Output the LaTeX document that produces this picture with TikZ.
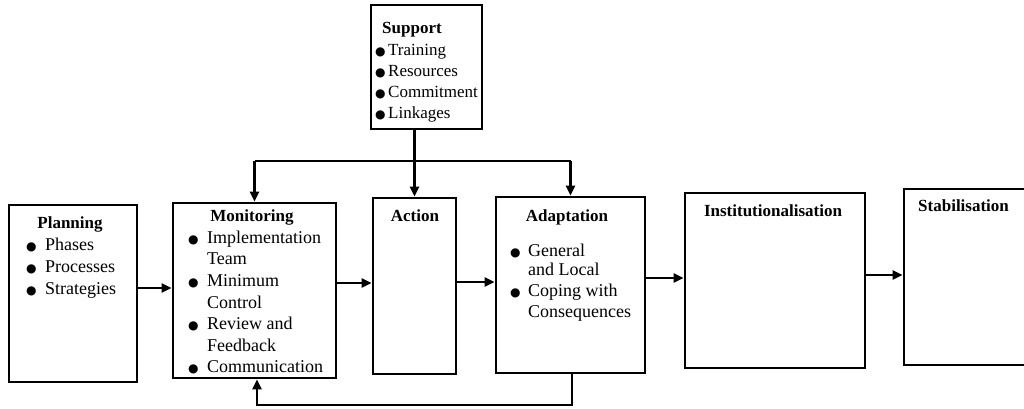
\documentclass[tikz,border=0pt]{standalone}
\usepackage{fontspec}
\setmainfont{Liberation Serif}
\newfontfamily\symf{DejaVu Sans}
\usetikzlibrary{arrows.meta}
\newcommand\myTitleFont{\bfseries\fontsize{17}{20}\selectfont}
\newcommand\myItemFont{\fontsize{18}{21}\selectfont}
\newcommand\myBul[1]{\makebox[#1][l]{\symf\fontsize{12}{12}\selectfont ●}}
\tikzset{
  box/.style={draw, line width=2.8pt, inner sep=0pt},
  line/.style={line width=2.4pt},
  conn/.style={line width=2.4pt, -{Triangle[length=10pt,width=9pt]}},
  ttl/.style={font=\myTitleFont, anchor=base, inner sep=0pt},
  itm/.style={font=\myItemFont, anchor=base west, inner sep=0pt},
}
\begin{document}
\begin{tikzpicture}[x=1pt,y=-1pt]
\useasboundingbox (0,0) rectangle (1024,409);
\fill[white] (0,0) rectangle (1024,409);
% boxes
\node[box, minimum width=111pt, minimum height=124pt] (sup) at (426.5,67) {};
\node[box, minimum width=128pt, minimum height=177pt] (plan) at (73,293.5) {};
\node[box, minimum width=163pt, minimum height=175pt] (mon) at (254.5,290.5) {};
\node[box, minimum width=83pt, minimum height=176pt] (act) at (414.5,286) {};
\node[box, minimum width=149pt, minimum height=176pt] (ada) at (570.5,285) {};
\node[box, minimum width=180pt, minimum height=175pt] (inst) at (775,280.5) {};
\node[box, minimum width=140pt, minimum height=176pt] (stab) at (974,277) {};
% Support texts
\node[ttl] (supT) at (412,34) {Support};
\node[itm, font=\fontsize{17}{20}\selectfont] (sup1) at (375,56) {\myBul{13pt}Training};
\node[itm, font=\fontsize{17}{20}\selectfont] (sup2) at (375,77) {\myBul{13pt}Resources};
\node[itm, font=\fontsize{17}{20}\selectfont] (sup3) at (375,98) {\myBul{13pt}Commitment};
\node[itm, font=\fontsize{17}{20}\selectfont] (sup4) at (375,118) {\myBul{13pt}Linkages};
% Planning texts
\node[ttl] (planT) at (70,228) {Planning};
\node[itm] (plan1) at (26,250) {\myBul{19pt}Phases};
\node[itm] (plan2) at (26,272) {\myBul{19pt}Processes};
\node[itm] (plan3) at (26,294) {\myBul{19pt}Strategies};
% Monitoring texts
\node[ttl] (monT) at (252,221) {Monitoring};
\node[itm] (mon1) at (188,243) {\myBul{19pt}Implementation};
\node[itm] (mon1b) at (207,264) {Team};
\node[itm] (mon2) at (188,286) {\myBul{19pt}Minimum};
\node[itm] (mon2b) at (207,308) {Control};
\node[itm] (mon3) at (188,329) {\myBul{19pt}Review and};
\node[itm] (mon3b) at (207,351) {Feedback};
\node[itm] (mon4) at (188,372) {\myBul{19pt}Communication};
% Action
\node[ttl] (actT) at (415,221) {Action};
% Adaptation texts
\node[ttl] (adaT) at (567,221) {Adaptation};
\node[itm] (ada1) at (510,256) {\myBul{18pt}General};
\node[itm] (ada1b) at (528,275) {and Local};
\node[itm] (ada2) at (510,296) {\myBul{18pt}Coping with};
\node[itm] (ada2b) at (528,317) {Consequences};
% Institutionalisation, Stabilisation
\node[ttl] (instT) at (773,216) {Institutionalisation};
\node[ttl, anchor=base west] (stabT) at (918,211) {Stabilisation};
% main flow
\draw[conn] ([yshift=5.5pt]plan.east) -- ([yshift=5.5pt]plan.east -| mon.west);
\draw[conn] ([yshift=7.5pt]mon.east) -- ([yshift=7.5pt]mon.east -| act.west);
\draw[conn] ([yshift=4pt]act.east) -- ([yshift=4pt]act.east -| ada.west);
\draw[conn] ([yshift=7pt]ada.east) -- ([yshift=7pt]ada.east -| inst.west);
\draw[conn] ([yshift=5.5pt]inst.east) -- ([yshift=5.5pt]inst.east -| stab.west);
% support distribution
\coordinate (busy) at (0,161);
\draw[conn] (sup.south -| act.north) -- (act.north);
\draw[line] (mon.north |- busy) -- (ada.north |- busy);
\draw[conn] (mon.north |- busy) -- (mon.north);
\draw[conn] (ada.north |- busy) -- (ada.north);
% feedback loop
\coordinate (fb) at (0,405);
\draw[conn] ([xshift=1.5pt]ada.south) -- ([xshift=1.5pt]ada.south |- fb) -- ([xshift=2.5pt]mon.south |- fb) -- ([xshift=2.5pt]mon.south);
\end{tikzpicture}
\end{document}
